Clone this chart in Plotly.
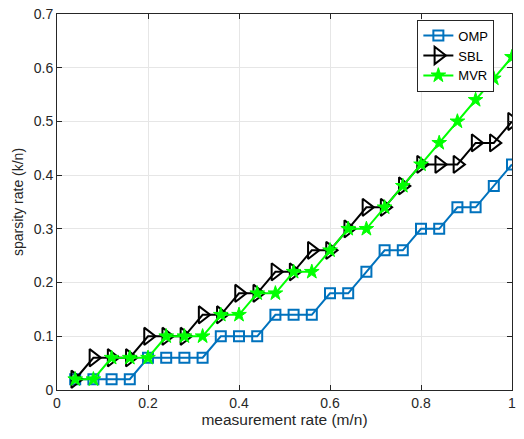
import plotly.graph_objects as go

# measurement rate (m/n)
x_vals = [0.04, 0.08, 0.12, 0.16, 0.20, 0.24, 0.28, 0.32, 0.36, 0.40, 0.44, 0.48, 0.52,
          0.56, 0.60, 0.64, 0.68, 0.72, 0.76, 0.80, 0.84, 0.88, 0.92, 0.96, 1.00]

# recovered sparsity rate (k/n) per method
omp = [0.02, 0.02, 0.02, 0.02, 0.06, 0.06, 0.06, 0.06, 0.10, 0.10, 0.10, 0.14, 0.14,
       0.14, 0.18, 0.18, 0.22, 0.26, 0.26, 0.30, 0.30, 0.34, 0.34, 0.38, 0.42]
sbl = [0.02, 0.06, 0.06, 0.06, 0.10, 0.10, 0.10, 0.14, 0.14, 0.18, 0.18, 0.22, 0.22,
       0.26, 0.26, 0.30, 0.34, 0.34, 0.38, 0.42, 0.42, 0.42, 0.46, 0.46, 0.50]
mvr = [0.02, 0.02, 0.06, 0.06, 0.06, 0.10, 0.10, 0.10, 0.14, 0.14, 0.18, 0.18, 0.22,
       0.22, 0.26, 0.30, 0.30, 0.34, 0.38, 0.42, 0.46, 0.50, 0.54, 0.58, 0.62]

x_ticks = [0, 0.2, 0.4, 0.6, 0.8, 1]
x_tick_text = ["0", "0.2", "0.4", "0.6", "0.8", "1"]
y_ticks = [0, 0.1, 0.2, 0.3, 0.4, 0.5, 0.6, 0.7]
y_tick_text = ["0", "0.1", "0.2", "0.3", "0.4", "0.5", "0.6", "0.7"]

FONT = "Liberation Sans, Arial, sans-serif"

fig = go.Figure()
fig.add_trace(go.Scatter(
    x=x_vals, y=omp, name="OMP", mode="lines+markers",
    line=dict(color="#0072BD", width=2),
    marker=dict(symbol="square-open", size=10, color="#0072BD", line=dict(width=2)),
))
fig.add_trace(go.Scatter(
    x=x_vals, y=sbl, name="SBL", mode="lines+markers",
    line=dict(color="#000000", width=2),
    marker=dict(symbol="triangle-right-open", size=15, color="#000000", line=dict(width=2)),
))
fig.add_trace(go.Scatter(
    x=x_vals, y=mvr, name="MVR", mode="lines+markers",
    line=dict(color="#00FF00", width=2),
    marker=dict(symbol="star", size=11, color="#00FF00", line=dict(width=1, color="#00FF00")),
))

axis_common = dict(
    showline=True, linecolor="#262626", linewidth=1, mirror="allticks",
    ticks="inside", ticklen=5, tickcolor="#262626",
    showgrid=True, gridcolor="#E6E6E6", gridwidth=1,
    zeroline=False, ticklabeloverflow="allow",
    tickfont=dict(family=FONT, size=14, color="#262626"),
)

fig.update_layout(
    width=524, height=439,
    margin=dict(l=57, r=12, t=6, b=49),
    paper_bgcolor="white", plot_bgcolor="white",
    xaxis=dict(range=[0, 1], tickvals=x_ticks, ticktext=x_tick_text,
               title=dict(text="measurement rate (m/n)", standoff=2,
                          font=dict(family=FONT, size=15.5, color="#262626")),
               **axis_common),
    yaxis=dict(range=[0, 0.7], tickvals=y_ticks, ticktext=y_tick_text,
               title=dict(text="sparsity rate (k/n)", standoff=6,
                          font=dict(family=FONT, size=14, color="#262626")),
               **axis_common),
    legend=dict(x=0.792, y=0.985, xanchor="left", yanchor="top",
                bgcolor="white", bordercolor="#262626", borderwidth=1,
                font=dict(family=FONT, size=13, color="#000000"),
                tracegroupgap=0, itemwidth=30),
    showlegend=True,
)

fig.write_html("out.html")
